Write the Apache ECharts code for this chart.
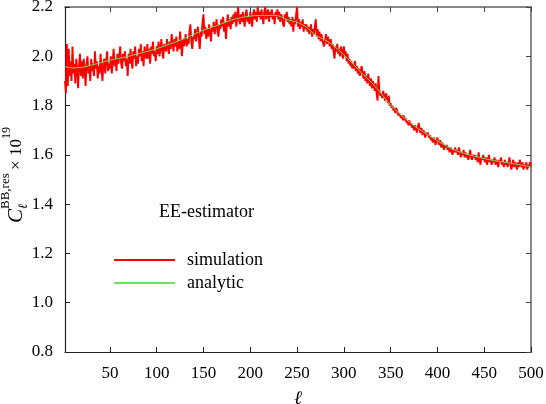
<!DOCTYPE html>
<html>
<head>
<meta charset="utf-8">
<script src="https://cdn.jsdelivr.net/npm/echarts@6/dist/echarts.min.js"></script>
<style>html,body{margin:0;padding:0;background:#fff;}#c{width:546px;height:404px;}</style>
</head>
<body>
<div id="c"></div>
<script>
// ℓ of first simulated value (one value per ℓ from here to 500)
const ellStart = 2;
const simulation = [
1.90,1.85,2.05,1.88,2.03,1.92,1.98,1.90,
2.04,1.93,1.97,1.89,1.99,1.95,1.87,1.96,2.01,1.92,
1.98,1.91,1.99,1.94,1.88,1.97,2.00,1.93,1.96,1.90,
1.99,1.94,1.97,1.92,2.02,1.95,1.98,1.91,1.96,1.93,
2.01,1.95,1.90,1.97,1.99,1.93,1.98,2.02,1.94,1.97,
1.95,2.00,1.93,1.98,2.03,1.96,1.99,1.94,2.01,1.97,
2.00,2.04,1.97,1.95,2.01,1.98,2.02,1.96,1.99,1.92,
2.01,1.97,2.03,1.98,1.95,2.02,1.99,2.04,1.96,2.00,
1.97,2.03,2.00,2.05,1.98,2.02,1.96,2.04,2.01,1.99,
2.05,1.99,2.03,1.97,2.04,2.01,2.06,2.00,2.02,1.98,
2.04,2.01,2.06,2.00,2.03,2.07,2.02,1.99,2.05,2.03,
2.02,2.07,2.04,2.01,2.06,2.03,2.09,2.05,2.02,2.07,
2.04,2.08,2.02,2.06,2.03,2.10,2.05,2.00,2.07,2.04,
2.06,2.09,2.04,2.07,2.05,2.10,2.13,2.06,2.03,2.08,
2.07,2.11,2.06,2.09,2.12,2.07,2.03,2.10,2.08,2.14,
2.17,2.09,2.12,2.07,2.11,2.08,2.13,2.10,2.06,2.12,
2.10,2.14,2.09,2.12,2.15,2.10,2.08,2.13,2.11,2.15,
2.12,2.16,2.10,2.14,2.07,2.13,2.17,2.12,2.15,2.11,
2.16,2.13,2.17,2.14,2.18,2.12,2.16,2.20,2.15,2.13,
2.17,2.14,2.18,2.15,2.12,2.17,2.19,2.14,2.16,2.13,
2.18,2.15,2.12,2.17,2.19,2.15,2.18,2.14,2.20,2.16,
2.18,2.15,2.19,2.16,2.13,2.18,2.20,2.15,2.17,2.19,
2.14,2.18,2.16,2.19,2.15,2.17,2.13,2.18,2.16,2.19,
2.15,2.18,2.14,2.17,2.16,2.13,2.12,2.17,2.15,2.18,
2.14,2.16,2.13,2.15,2.12,2.16,2.10,2.15,2.13,2.17,
2.20,2.12,2.15,2.11,2.14,2.12,2.15,2.10,2.13,2.11,
2.13,2.10,2.12,2.09,2.11,2.13,2.08,2.11,2.09,2.12,
2.15,2.08,2.11,2.07,2.10,2.06,2.09,2.07,2.05,2.04,
2.07,2.09,2.05,2.08,2.06,2.04,2.07,2.03,2.05,2.02,
1.99,2.04,2.02,2.05,2.01,2.03,2.00,2.04,2.02,1.99,
2.04,2.00,2.02,1.98,2.01,1.97,1.99,1.96,1.98,1.95,
1.97,1.95,1.98,1.94,1.96,1.93,1.95,1.92,1.94,1.96,
1.93,1.91,1.94,1.90,1.92,1.89,1.93,1.90,1.88,1.91,
1.87,1.90,1.88,1.86,1.89,1.85,1.82,1.92,1.86,1.84,
1.85,1.83,1.86,1.84,1.82,1.85,1.83,1.81,1.84,1.80,
1.81,1.79,1.80,1.78,1.79,1.77,1.79,1.78,1.76,1.77,
1.77,1.75,1.76,1.74,1.76,1.74,1.75,1.73,1.74,1.72,
1.74,1.72,1.73,1.71,1.72,1.70,1.72,1.71,1.69,1.71,
1.73,1.70,1.69,1.71,1.68,1.70,1.69,1.67,1.69,1.68,
1.69,1.67,1.68,1.66,1.67,1.65,1.67,1.66,1.64,1.66,
1.67,1.65,1.64,1.66,1.63,1.65,1.64,1.62,1.64,1.63,
1.64,1.62,1.63,1.61,1.63,1.62,1.60,1.62,1.61,1.63,
1.61,1.62,1.60,1.63,1.61,1.59,1.61,1.60,1.62,1.59,
1.61,1.59,1.60,1.58,1.60,1.62,1.59,1.58,1.60,1.59,
1.60,1.58,1.59,1.57,1.61,1.58,1.56,1.59,1.58,1.60,
1.58,1.57,1.59,1.56,1.58,1.60,1.57,1.58,1.56,1.58,
1.57,1.59,1.56,1.58,1.57,1.55,1.58,1.57,1.59,1.56,
1.57,1.55,1.58,1.56,1.57,1.55,1.57,1.59,1.56,1.54,
1.56,1.58,1.55,1.57,1.56,1.54,1.57,1.55,1.58,1.56,
1.55,1.57,1.54,1.56,1.55,1.57,1.54,1.56,1.55,1.57,1.55
];
const analyticEll = [2,10,20,30,40,50,60,70,80,90,100,110,120,130,140,150,160,170,180,190,200,210,220,230,240,250,260,270,280,290,300,310,320,330,340,350,360,370,380,390,400,410,420,430,440,450,460,470,480,490,500];
const analyticVals = [1.958,1.953,1.955,1.964,1.974,1.984,1.992,2.000,2.010,2.020,2.031,2.044,2.058,2.073,2.090,2.106,2.119,2.133,2.147,2.157,2.163,2.166,2.166,2.164,2.148,2.138,2.118,2.085,2.066,2.040,2.006,1.968,1.928,1.892,1.848,1.802,1.765,1.733,1.705,1.681,1.657,1.635,1.617,1.604,1.594,1.585,1.577,1.571,1.565,1.558,1.552];
const xTickLabels = [50,100,150,200,250,300,350,400,450,500];
const seriesNames = ['simulation','analytic'];
const legendTitle = 'EE-estimator';

const simData = simulation.map((v,i)=>[ellStart+i, v]);
const anaData = analyticEll.map((l,i)=>[l, analyticVals[i]]);

const FONT = '"Liberation Serif", "DejaVu Serif", serif';
const chart = echarts.init(document.getElementById('c'), null, {renderer:'canvas'});
const xRange = {min: 2, max: 500};
chart.setOption({
  animation: false,
  backgroundColor: '#fff',
  grid: {left: 65, right: 15, top: 7, bottom: 52, containLabel: false, outerBoundsMode: 'none'},
  xAxis: [{
    type: 'value', min: xRange.min, max: xRange.max, position: 'bottom',
    name: 'ℓ', nameLocation: 'middle', nameGap: 37,
    nameTextStyle: {fontFamily: FONT, fontStyle: 'italic', fontSize: 19, color: '#000'},
    axisLine: {show: true, onZero: false, lineStyle: {color: '#222', width: 1.2}},
    axisTick: {show: true, inside: true, length: 5, customValues: xTickLabels, lineStyle: {color: '#222'}},
    axisLabel: {customValues: xTickLabels, margin: 13, fontFamily: FONT, fontSize: 17, color: '#000'},
    splitLine: {show: false}
  }, {
    type: 'value', min: xRange.min, max: xRange.max, position: 'top',
    axisLine: {show: true, onZero: false, lineStyle: {color: '#888', width: 2}},
    axisTick: {show: true, inside: true, length: 5, customValues: xTickLabels, lineStyle: {color: '#444'}},
    axisLabel: {show: false},
    splitLine: {show: false}
  }],
  yAxis: [{
    type: 'value', min: 0.8, max: 2.2, interval: 0.2, position: 'left',
    axisLine: {show: true, onZero: false, lineStyle: {color: '#222', width: 1.2}},
    axisTick: {show: true, inside: true, length: 5, lineStyle: {color: '#222'}},
    axisLabel: {margin: 12, fontFamily: FONT, fontSize: 17, color: '#000', formatter: v => v.toFixed(1)},
    splitLine: {show: false}
  }, {
    type: 'value', min: 0.8, max: 2.2, interval: 0.2, position: 'right',
    axisLine: {show: true, onZero: false, lineStyle: {color: '#888', width: 2}},
    axisTick: {show: true, inside: true, length: 5, lineStyle: {color: '#444'}},
    axisLabel: {show: false},
    splitLine: {show: false}
  }],
  legend: {
    data: seriesNames, orient: 'vertical', left: 113, top: 251, padding: 0,
    itemWidth: 61, itemHeight: 14, itemGap: 5,
    itemStyle: {opacity: 0},
    textStyle: {fontFamily: FONT, fontSize: 18, color: '#000', padding: [0,0,0,7]}
  },
  graphic: [
    {type: 'text', left: 159, top: 203, style: {text: legendTitle, font: '18px ' + FONT, fill: '#000'}},
    {type: 'group', x: 23, y: 223, rotation: Math.PI/2, children: [
      {type: 'text', x: 0, y: -7, style: {text: 'C', font: 'italic 21px ' + FONT, fill: '#000', align: 'left', verticalAlign: 'middle'}},
      {type: 'text', x: 14, y: 1, style: {text: 'ℓ', font: 'italic 13px ' + FONT, fill: '#000', align: 'left', verticalAlign: 'middle'}},
      {type: 'text', x: 14, y: -17, style: {text: 'BB,res', font: '13px ' + FONT, fill: '#000', align: 'left', verticalAlign: 'middle'}},
      {type: 'text', x: 53, y: -6, style: {text: '×', font: '17px ' + FONT, fill: '#000', align: 'left', verticalAlign: 'middle'}},
      {type: 'text', x: 67, y: -6, style: {text: '10', font: '17px ' + FONT, fill: '#000', align: 'left', verticalAlign: 'middle'}},
      {type: 'text', x: 84, y: -16, style: {text: '19', font: '12px ' + FONT, fill: '#000', align: 'left', verticalAlign: 'middle'}}
    ]}
  ],
  series: [{
    name: seriesNames[0], type: 'line', data: simData, showSymbol: false, symbol: 'none',
    sampling: null, lineStyle: {color: '#ff0000', width: 1.9}, itemStyle: {color: '#ff0000'}, z: 2
  }, {
    name: seriesNames[1], type: 'line', data: anaData, showSymbol: false, symbol: 'none', smooth: 0.3,
    lineStyle: {color: '#70e060', width: 1}, itemStyle: {color: '#70e060'}, z: 3
  }]
});
</script>
</body>
</html>
